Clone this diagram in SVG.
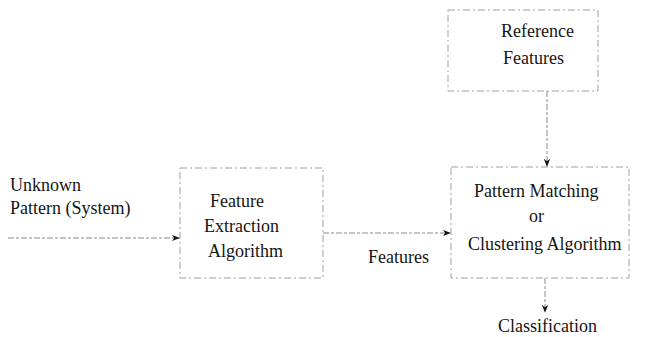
<svg xmlns="http://www.w3.org/2000/svg" width="662" height="337" viewBox="0 0 662 337">
<style>
text{font-family:'Liberation Serif','Tinos','Times New Roman','DejaVu Serif',serif;font-size:18px;fill:#151515}
.box{fill:none;stroke:#a0a0a0;stroke-width:1;stroke-dasharray:7 3 2 3}
.edge{fill:none;stroke:#8a8a8a;stroke-width:1;stroke-dasharray:6 2 3 2}
</style>
<defs>
<marker id="ah" viewBox="0 0 10 10" refX="9" refY="5" markerWidth="8" markerHeight="8" orient="auto" markerUnits="userSpaceOnUse">
<path d="M0,1 L10,5 L0,9 L3,5 Z" fill="#111"/>
</marker>
</defs>
<g id="input">
<text x="10" y="191">Unknown</text>
<text x="10" y="214">Pattern (System)</text>
</g>
<g id="ref">
<rect class="box" x="448" y="10" width="150" height="81"/>
<text x="501" y="37">Reference</text>
<text x="503" y="64">Features</text>
</g>
<g id="fe">
<rect class="box" x="180" y="168" width="143" height="110"/>
<text x="210" y="207">Feature</text>
<text x="204" y="232">Extraction</text>
<text x="208" y="257">Algorithm</text>
</g>
<g id="pm">
<rect class="box" x="451" y="167" width="178" height="111"/>
<text x="474" y="197">Pattern Matching</text>
<text x="529" y="222">or</text>
<text x="468" y="250">Clustering Algorithm</text>
</g>
<g id="out">
<text x="498" y="332">Classification</text>
</g>
<g id="connectors">
<line class="edge" x1="8" y1="238" x2="179" y2="238" marker-end="url(#ah)"/>
<line class="edge" x1="323" y1="233" x2="450" y2="233" marker-end="url(#ah)"/>
<line class="edge" x1="547" y1="91" x2="547" y2="166" marker-end="url(#ah)"/>
<line class="edge" x1="545" y1="278" x2="545" y2="312" marker-end="url(#ah)"/>
<text x="368" y="263">Features</text>
</g>
</svg>
